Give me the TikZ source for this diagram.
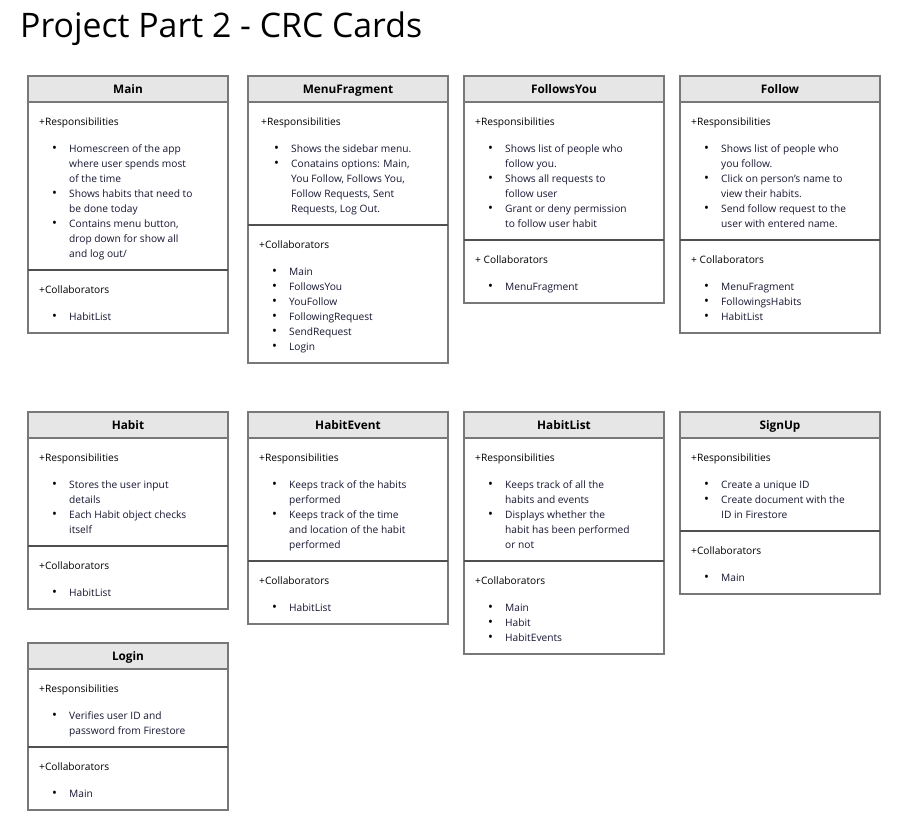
\documentclass[tikz,border=0pt]{standalone}
\usepackage{fontspec}
\setmainfont{Open Sans}
\usetikzlibrary{positioning}
\definecolor{cardline}{RGB}{120,120,120}
\definecolor{hdrline}{RGB}{80,80,80}
\definecolor{hdrfill}{RGB}{230,230,230}
\definecolor{itemcol}{RGB}{22,22,50}
% one bullet line, and a wrapped continuation line
\newcommand{\crcitem}[1]{\hspace*{13pt}\makebox[17pt][l]{\fontsize{13}{15}\selectfont\textbullet}\textcolor{itemcol}{#1}}
\newcommand{\crcmore}[1]{\hspace*{30pt}\textcolor{itemcol}{#1}}

\begin{document}
\begin{tikzpicture}[x=1pt, y=-1pt,
  hdr/.style={draw=cardline, fill=hdrfill, line width=1.5pt, minimum width=200pt,
              minimum height=26pt, inner sep=0pt, text height=10pt, text depth=0.5pt,
              font=\fontsize{11.8}{12}\selectfont\bfseries},
  sec/.style={anchor=north west, align=left, inner sep=0pt,
              font=\fontsize{10.2}{15}\selectfont},
  card/.style={draw=cardline, line width=1.5pt},
  split/.style={draw=hdrline, line width=1.5pt}
]
\useasboundingbox (0,0) rectangle (915,833);

\node[anchor=base west, inner sep=0pt, font=\fontsize{33.8}{38}\selectfont] (title) at (20,37) {Project Part 2 - CRC Cards};

% Main
\draw[card] (28,76) rectangle (228,333);
\node[hdr] (mainT) at (128,89) {Main};
\node[sec] (mainR) at (39,118) {+Responsibilities\\[12pt]
  \crcitem{Homescreen of the app}\\ \crcmore{where user spends most}\\ \crcmore{of the time}\\
  \crcitem{Shows habits that need to}\\ \crcmore{be done today}\\
  \crcitem{Contains menu button,}\\ \crcmore{drop down for show all}\\ \crcmore{and log out/}};
\draw[split] (28,270) -- (228,270);
\node[sec] (mainC) at (39,286) {+Collaborators\\[12pt] \crcitem{HabitList}};

% MenuFragment
\draw[card] (248,76) rectangle (448,363);
\node[hdr] (menuT) at (348,89) {MenuFragment};
\node[sec] (menuR) at (261,118) {+Responsibilities\\[12pt]
  \crcitem{Shows the sidebar menu.}\\
  \crcitem{Conatains options: Main,}\\ \crcmore{You Follow, Follows You,}\\
  \crcmore{Follow Requests, Sent}\\ \crcmore{Requests, Log Out.}};
\draw[split] (248,225) -- (448,225);
\node[sec] (menuC) at (259,241) {+Collaborators\\[12pt]
  \crcitem{Main}\\ \crcitem{FollowsYou}\\ \crcitem{YouFollow}\\
  \crcitem{FollowingRequest}\\ \crcitem{SendRequest}\\ \crcitem{Login}};

% FollowsYou
\draw[card] (464,76) rectangle (664,303);
\node[hdr] (fyouT) at (564,89) {FollowsYou};
\node[sec] (fyouR) at (475,118) {+Responsibilities\\[12pt]
  \crcitem{Shows list of people who}\\ \crcmore{follow you.}\\
  \crcitem{Shows all requests to}\\ \crcmore{follow user}\\
  \crcitem{Grant or deny permission}\\ \crcmore{to follow user habit}};
\draw[split] (464,240) -- (664,240);
\node[sec] (fyouC) at (475,256) {+ Collaborators\\[12pt] \crcitem{MenuFragment}};

% Follow
\draw[card] (680,76) rectangle (880,333);
\node[hdr] (follT) at (780,89) {Follow};
\node[sec] (follR) at (691,118) {+Responsibilities\\[12pt]
  \crcitem{Shows list of people who}\\ \crcmore{you follow.}\\
  \crcitem{Click on person's name to}\\ \crcmore{view their habits.}\\
  \crcitem{Send follow request to the}\\ \crcmore{user with entered name.}};
\draw[split] (680,240) -- (880,240);
\node[sec] (follC) at (691,256) {+ Collaborators\\[12pt]
  \crcitem{MenuFragment}\\ \crcitem{FollowingsHabits}\\ \crcitem{HabitList}};

% Habit
\draw[card] (28,412) rectangle (228,609);
\node[hdr] (habT) at (128,425) {Habit};
\node[sec] (habR) at (39,454) {+Responsibilities\\[12pt]
  \crcitem{Stores the user input}\\ \crcmore{details}\\
  \crcitem{Each Habit object checks}\\ \crcmore{itself}};
\draw[split] (28,546) -- (228,546);
\node[sec] (habC) at (39,562) {+Collaborators\\[12pt] \crcitem{HabitList}};

% HabitEvent
\draw[card] (248,412) rectangle (448,624);
\node[hdr] (hevT) at (348,425) {HabitEvent};
\node[sec] (hevR) at (259,454) {+Responsibilities\\[12pt]
  \crcitem{Keeps track of the habits}\\ \crcmore{performed}\\
  \crcitem{Keeps track of the time}\\ \crcmore{and location of the habit}\\ \crcmore{performed}};
\draw[split] (248,561) -- (448,561);
\node[sec] (hevC) at (259,577) {+Collaborators\\[12pt] \crcitem{HabitList}};

% HabitList
\draw[card] (464,412) rectangle (664,654);
\node[hdr] (hlsT) at (564,425) {HabitList};
\node[sec] (hlsR) at (475,454) {+Responsibilities\\[12pt]
  \crcitem{Keeps track of all the}\\ \crcmore{habits and events}\\
  \crcitem{Displays whether the}\\ \crcmore{habit has been performed}\\ \crcmore{or not}};
\draw[split] (464,561) -- (664,561);
\node[sec] (hlsC) at (475,577) {+Collaborators\\[12pt]
  \crcitem{Main}\\ \crcitem{Habit}\\ \crcitem{HabitEvents}};

% SignUp
\draw[card] (680,412) rectangle (880,594);
\node[hdr] (signT) at (780,425) {SignUp};
\node[sec] (signR) at (691,454) {+Responsibilities\\[12pt]
  \crcitem{Create a unique ID}\\
  \crcitem{Create document with the}\\ \crcmore{ID in Firestore}};
\draw[split] (680,531) -- (880,531);
\node[sec] (signC) at (691,547) {+Collaborators\\[12pt] \crcitem{Main}};

% Login
\draw[card] (28,643) rectangle (228,810);
\node[hdr] (logT) at (128,656) {Login};
\node[sec] (logR) at (39,685) {+Responsibilities\\[12pt]
  \crcitem{Verifies user ID and}\\ \crcmore{password from Firestore}};
\draw[split] (28,747) -- (228,747);
\node[sec] (logC) at (39,763) {+Collaborators\\[12pt] \crcitem{Main}};
\end{tikzpicture}
\end{document}
